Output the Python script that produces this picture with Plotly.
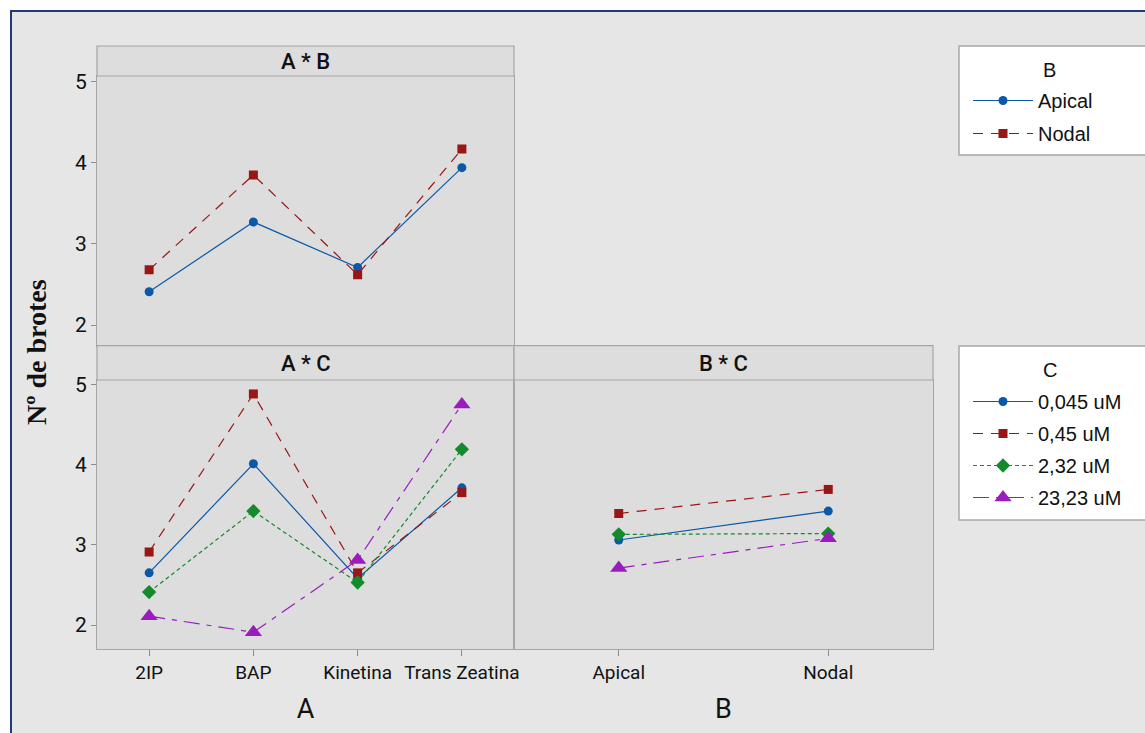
import plotly.graph_objects as go

# ---------------- data ----------------
A_levels = ["2IP", "BAP", "Kinetina", "Trans Zeatina"]
B_levels = ["Apical", "Nodal"]
C_levels = ["0,045 uM", "0,45 uM", "2,32 uM", "23,23 uM"]

# A * B interaction means
ab_apical = [2.41, 3.27, 2.71, 3.94]
ab_nodal = [2.68, 3.85, 2.62, 4.17]

# A * C interaction means
ac_c1 = [2.65, 4.01, 2.58, 3.71]
ac_c2 = [2.91, 4.88, 2.65, 3.65]
ac_c3 = [2.41, 3.42, 2.53, 4.19]
ac_c4 = [2.11, 1.91, 2.81, 4.75]

# B * C interaction means
bc_c1 = [3.06, 3.42]
bc_c2 = [3.39, 3.69]
bc_c3 = [3.13, 3.14]
bc_c4 = [2.71, 3.08]

y_ticks = [2, 3, 4, 5]

# ---------------- styles ----------------
W, H = 1145, 733
def X(px):
    return px / W
def Y(py):
    return 1 - py / H

BLUE = "#0b58a8"
RED = "#981616"
GREEN = "#138a2c"
PURPLE = "#9a1cbf"

tickfam = "Roboto, Liberation Sans, sans-serif"
regular = "Liberation Sans, Arial, sans-serif"

styles_B = [
    dict(color=BLUE, dash="solid", symbol="circle", size=9),
    dict(color=RED, dash="10px,8px", symbol="square", size=9),
]
styles_C = [
    dict(color=BLUE, dash="solid", symbol="circle", size=9),
    dict(color=RED, dash="10px,8px", symbol="square", size=9),
    dict(color=GREEN, dash="4px,3px", symbol="diamond", size=11),
    dict(color=PURPLE, dash="16px,7px,5px,7px", symbol="triangle-up", size=15),
]

fig = go.Figure()

def add(xcats, yvals, st, name, xa, ya, legend, show, group):
    fig.add_trace(go.Scatter(
        x=xcats, y=yvals, mode="lines+markers", name=name,
        line=dict(color=st["color"], dash=st["dash"], width=1.2),
        marker=dict(symbol=st["symbol"], size=st["size"], color=st["color"]),
        xaxis=xa, yaxis=ya, showlegend=show, legend=legend, legendgroup=group,
    ))

for vals, name, st in zip([ab_apical, ab_nodal], B_levels, styles_B):
    add(A_levels, vals, st, name, "x", "y", "legend", True, "B_" + name)

for vals, name, st in zip([ac_c1, ac_c2, ac_c3, ac_c4], C_levels, styles_C):
    add(A_levels, vals, st, name, "x2", "y2", "legend2", True, "C_" + name)

for vals, name, st in zip([bc_c1, bc_c2, bc_c3, bc_c4], C_levels, styles_C):
    add(B_levels, vals, st, name, "x3", "y3", "legend2", False, "C_" + name)

GRID = "#a6a6a6"
axis_common = dict(showline=True, linecolor=GRID, linewidth=1, mirror=True,
                   showgrid=False, zeroline=False, fixedrange=True, automargin=False)

xtickfont = dict(family=tickfam, size=19, color="#111111")
ytickfont = dict(family=tickfam, size=21, color="#111111")
titlefont = dict(family=tickfam, size=27, color="#111111")

fig.update_layout(
    width=W, height=H,
    margin=dict(l=0, r=0, t=0, b=0, autoexpand=False),
    paper_bgcolor="#e6e6e6",
    plot_bgcolor="#dddddd",
    showlegend=True,
    xaxis=dict(domain=[X(97), X(514)], anchor="y", range=[-0.5, 3.5],
               showticklabels=False, ticks="", **axis_common),
    yaxis=dict(domain=[Y(345.7), Y(76)], anchor="x", range=[1.745, 5.070],
               tickvals=y_ticks, ticks="outside", ticklen=5, tickcolor="#8c8c8c",
               tickfont=ytickfont, **axis_common),
    xaxis2=dict(domain=[X(97), X(514)], anchor="y2", range=[-0.5, 3.5], tickangle=0,
                ticks="outside", ticklen=6, tickcolor="#8c8c8c", tickfont=xtickfont,
                title=dict(text="A", font=titlefont, standoff=16),
                **axis_common),
    yaxis2=dict(domain=[Y(649), Y(380)], anchor="x2", range=[1.701, 5.054],
                tickvals=y_ticks, ticks="outside", ticklen=5, tickcolor="#8c8c8c",
                tickfont=ytickfont, **axis_common),
    xaxis3=dict(domain=[X(514), X(933)], anchor="y3", range=[-0.5, 1.5], tickangle=0,
                ticks="outside", ticklen=6, tickcolor="#8c8c8c", tickfont=xtickfont,
                title=dict(text="B", font=titlefont, standoff=16),
                **axis_common),
    yaxis3=dict(domain=[Y(649), Y(380)], anchor="x3", matches="y2",
                showticklabels=False, ticks="", **axis_common),
    legend=dict(x=X(968), y=Y(81), xanchor="left", yanchor="top", itemwidth=60,
                bgcolor="rgba(0,0,0,0)", borderwidth=0,
                font=dict(family=regular, size=20, color="#111111"),
                tracegroupgap=4, itemclick=False, itemdoubleclick=False),
    legend2=dict(x=X(968), y=Y(382), xanchor="left", yanchor="top", itemwidth=60,
                 bgcolor="rgba(0,0,0,0)", borderwidth=0,
                 font=dict(family=regular, size=20, color="#111111"),
                 tracegroupgap=3, itemclick=False, itemdoubleclick=False),
)

shapes = []
# white margin outside the navy frame
shapes.append(dict(type="rect", xref="paper", yref="paper", x0=0, x1=1, y0=Y(10.5), y1=1,
                   fillcolor="white", line=dict(width=0), layer="below"))
shapes.append(dict(type="rect", xref="paper", yref="paper", x0=0, x1=X(10), y0=0, y1=1,
                   fillcolor="white", line=dict(width=0), layer="below"))
# navy frame lines
shapes.append(dict(type="line", xref="paper", yref="paper", x0=X(10), x1=1.01, y0=Y(11), y1=Y(11),
                   line=dict(color="#1f3c78", width=2)))
shapes.append(dict(type="line", xref="paper", yref="paper", x0=X(11), x1=X(11), y0=-0.01, y1=Y(11),
                   line=dict(color="#1f3c78", width=2)))
# panel header strips
for (x0, x1, y0, y1) in [(97, 514, 46, 76), (97, 514, 345.7, 380), (514, 933, 345.7, 380)]:
    shapes.append(dict(type="rect", xref="paper", yref="paper", x0=X(x0), x1=X(x1), y0=Y(y1), y1=Y(y0),
                       fillcolor="#dddddd", line=dict(color=GRID, width=1.2)))
# legend boxes
for (y0, y1) in [(46, 155), (346, 520)]:
    shapes.append(dict(type="rect", xref="paper", yref="paper", x0=X(959), x1=1.02, y0=Y(y1), y1=Y(y0),
                       fillcolor="white", line=dict(color="#a8a8a8", width=1.5), layer="below"))
fig.update_layout(shapes=shapes)

annotations = []
for txt, xc, yc in [("A * B", 305.5, 61), ("A * C", 305.5, 363), ("B * C", 723.5, 363)]:
    annotations.append(dict(text=txt, x=X(xc), y=Y(yc), xref="paper", yref="paper",
                            showarrow=False, xanchor="center", yanchor="middle",
                            font=dict(family=tickfam, size=22, color="#111111", weight=500)))
annotations.append(dict(text="B", x=X(1041), y=Y(70), xref="paper", yref="paper", showarrow=False,
                        xanchor="left", yanchor="middle", font=dict(family=regular, size=20, color="#111111")))
annotations.append(dict(text="C", x=X(1041), y=Y(370), xref="paper", yref="paper", showarrow=False,
                        xanchor="left", yanchor="middle", font=dict(family=regular, size=20, color="#111111")))
annotations.append(dict(text="<b>Nº de brotes</b>", x=X(36), y=Y(352), xref="paper", yref="paper",
                        showarrow=False, textangle=-90, xanchor="center", yanchor="middle",
                        font=dict(family="Liberation Serif, Times New Roman, serif", size=28, color="#111111")))
fig.update_layout(annotations=annotations)

fig.write_html("out.html", config={"displayModeBar": False},
               post_script="document.body.style.margin='0px';")
